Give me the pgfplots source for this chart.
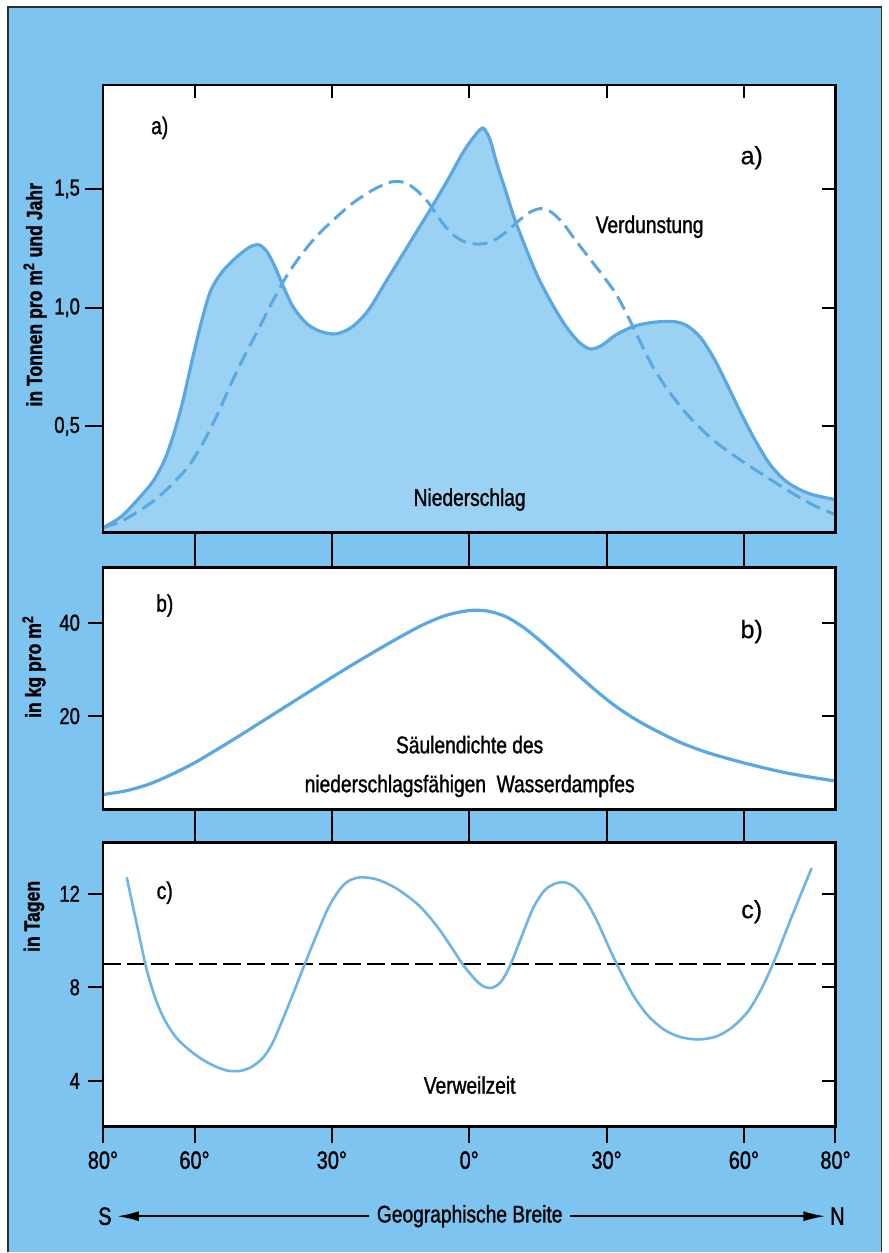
\documentclass[border=0pt]{standalone}
\usepackage{fontspec}
\setmainfont{Liberation Sans}[FakeStretch=0.8, FakeBold=1.2]
\newfontfamily\widefont{Liberation Sans}[FakeBold=0.6]
\usepackage{pgfplots}
\pgfplotsset{compat=1.18}
\usetikzlibrary{arrows.meta}
\definecolor{bgblue}{RGB}{125,196,240}
\definecolor{fillblue}{RGB}{155,210,244}
\definecolor{lineblue}{RGB}{90,168,225}
\definecolor{lineblueC}{RGB}{110,180,228}
\definecolor{framecol}{RGB}{45,45,50}

\pgfplotsset{
  panel/.style={
    scale only axis, width=366.5pt, xmin=-80, xmax=80,
    anchor=north west, axis on top,
    axis background/.style={fill=white},
    axis line style={line width=1.3pt},
    tick style={draw=none},
    /pgf/number format/assume math mode=true,
    font=\fontsize{12}{14}\selectfont,
    ticklabel style={font=\fontsize{11.5}{13}\selectfont},
    yticklabel style={xshift=-8pt},
  }
}

\pgfplotstableread{
lat val
-80 0.072
-76 0.12
-72 0.20
-69 0.27
-66.5 0.36
-64.5 0.47
-62.5 0.61
-60.5 0.78
-58.5 0.94
-56.5 1.07
-54 1.15
-51 1.21
-48 1.255
-46 1.265
-44.3 1.24
-42.6 1.18
-40.6 1.09
-38.5 1.005
-35.6 0.935
-32.5 0.90
-29 0.89
-25.5 0.92
-22 0.99
-18.5 1.10
-15 1.21
-11.5 1.32
-8 1.43
-4.5 1.545
-1.5 1.65
1 1.72
3 1.757
4.5 1.71
6 1.61
8 1.49
10 1.37
12.5 1.245
15 1.13
18 1.02
21 0.925
24 0.855
26.5 0.826
29 0.842
32 0.885
36 0.922
40 0.938
44.5 0.942
47.5 0.925
50.5 0.875
53.5 0.785
56.5 0.67
59.5 0.55
62.5 0.44
65.5 0.345
68.5 0.28
71.5 0.24
75 0.212
80 0.191
}\niederschlag

\pgfplotstableread{
lat val
-80 0.073
-76 0.100
-72 0.145
-68 0.200
-64 0.273
-61 0.340
-58 0.435
-55 0.550
-52 0.680
-49 0.800
-46 0.910
-43 1.025
-40 1.130
-37 1.215
-33.5 1.298
-29.5 1.373
-25.5 1.440
-21 1.497
-17 1.530
-14 1.527
-11.5 1.495
-9 1.445
-6.5 1.375
-4 1.315
-1 1.278
2 1.268
5 1.280
8 1.318
11 1.370
13.5 1.405
15.8 1.418
18 1.402
20.5 1.356
23 1.290
26 1.215
29 1.140
32 1.060
34.5 0.970
37 0.870
40 0.755
43.5 0.650
48 0.542
53 0.447
58.5 0.368
64 0.298
70 0.225
75.5 0.165
80 0.128
}\verdunstung

\pgfplotstableread{
lat val
-80 3.2
-75 4.0
-70 5.4
-65 7.5
-60 10.0
-55 12.9
-50 15.9
-45 19.0
-40 22.1
-35 25.2
-30 28.3
-25 31.3
-20 34.2
-15 37.0
-10 39.6
-5 41.6
0 42.6
4 42.5
8 41.3
12 38.9
16 35.7
20 32.2
24 28.6
28 25.2
32 22.1
36 19.5
40 17.3
46 14.4
52 12.2
58 10.5
64 9.0
70 7.7
76 6.7
80 6.1
}\saeule

\pgfplotstableread{
lat val
-74.8 12.7
-72.5 10.6
-70.5 8.8
-68.5 7.5
-66.5 6.6
-64 5.85
-61 5.3
-58 4.88
-55 4.58
-52.5 4.43
-50 4.43
-47.5 4.6
-45 5.0
-43 5.6
-41 6.5
-38.5 7.7
-36 8.95
-33 10.4
-30.5 11.5
-28 12.25
-26 12.58
-23.5 12.7
-20 12.6
-15.7 12.2
-11 11.5
-7 10.6
-3.5 9.6
-1.5 9.0
1 8.4
3 8.05
5 7.98
7 8.25
9 8.95
11.5 10.2
14 11.4
16.5 12.15
19 12.45
21 12.48
23.2 12.25
25.5 11.7
28 10.8
31 9.5
33.5 8.5
36 7.6
39 6.8
42.5 6.2
46 5.88
50 5.77
54 5.9
57.5 6.3
61 7.0
64 8.0
67 9.3
70 10.8
72.5 12.0
74.8 13.1
}\verweil

\begin{document}
\begin{tikzpicture}
\fill[white] (0,0) rectangle (444.5pt,626.5pt);
\fill[bgblue] (4pt,0) rectangle (441pt,623pt);
\draw[framecol, line width=0.8pt] (4pt,0) -- (4pt,623pt) -- (441pt,623pt) -- (441pt,0);

% ---------------- panel a ----------------
\begin{axis}[panel, at={(51.5pt,584pt)}, height=224pt,
  ymin=0.052, ymax=1.939,
  xtick=\empty,
  ytick={0.5,1.0,1.5}, yticklabels={{0,5},{1,0},{1,5}},
  after end axis/.code={
    \foreach \t in {-60,-30,0,30,60} {
      \draw[line width=1pt] (axis cs:\t,1.939) -- ++(0,-6.5pt);
      \draw[line width=1pt] (axis cs:\t,0.052) -- ++(0,-17.5pt);
    }
    \foreach \v in {0.5,1.0,1.5} {
      \draw[line width=1pt] (axis cs:-80,\v) -- ++(-9pt,0);
      \draw[line width=1pt] (axis cs:80,\v) -- ++(-6.5pt,0);
    }
  }]
\addplot[smooth, draw=none, fill=fillblue] table[x=lat, y=val] {\niederschlag} \closedcycle;
\addplot[smooth, lineblue, line width=1.6pt] table[x=lat, y=val] {\niederschlag};
\addplot[smooth, lineblue, line width=1.5pt, dash pattern=on 7.5pt off 3.5pt] table[x=lat, y=val] {\verdunstung};
\node at (axis cs:-67.6,1.758) {a)};
\node[font=\widefont\fontsize{12.5}{14}\selectfont] at (axis cs:61.7,1.632) {a)};
\node at (axis cs:39.4,1.341) {Verdunstung};
\node at (axis cs:0.1,0.191) {Niederschlag};
\end{axis}

% ---------------- panel b ----------------
\begin{axis}[panel, at={(51.5pt,342.5pt)}, height=121pt,
  ymin=0, ymax=51.8,
  xtick=\empty,
  ytick={20,40},
  after end axis/.code={
    \foreach \t in {-60,-30,0,30,60} {
      \draw[line width=1pt] (axis cs:\t,0) -- ++(0,-16.5pt);
    }
    \foreach \v in {20,40} {
      \draw[line width=1pt] (axis cs:-80,\v) -- ++(-7.5pt,0);
      \draw[line width=1pt] (axis cs:80,\v) -- ++(-6.5pt,0);
    }
  }]
\addplot[smooth, lineblue, line width=1.6pt] table[x=lat, y=val] {\saeule};
\node at (axis cs:-66.5,43.7) {b)};
\node[font=\widefont\fontsize{12.5}{14}\selectfont] at (axis cs:61.7,38.1) {b)};
\node[align=center, font=\fontsize{12}{19.5}\selectfont] at (axis cs:0.1,9.2) {Säulendichte des\\niederschlagsfähigen\ \ Wasserdampfes};
\end{axis}

% ---------------- panel c ----------------
\begin{axis}[panel, at={(51.5pt,205pt)}, height=142pt,
  ymin=2.06, ymax=14.19,
  xtick={-80,-60,-30,0,30,60,80},
  xticklabels={80°,60°,30°,0°,30°,60°,80°},
  xticklabel style={yshift=-9pt, font=\fontsize{12.5}{14}\selectfont},
  ytick={4,8,12},
  after end axis/.code={
    \foreach \t in {-80,-60,-30,0,30,60,80} {
      \draw[line width=1pt] (axis cs:\t,2.06) -- ++(0,-8.5pt);
    }
    \foreach \v in {4,8,12} {
      \draw[line width=1pt] (axis cs:-80,\v) -- ++(-7.5pt,0);
      \draw[line width=1pt] (axis cs:80,\v) -- ++(-6.5pt,0);
    }
  }]
\addplot[black, line width=1pt, dash pattern=on 9pt off 3pt] coordinates {(-80,9) (80,9)};
\addplot[smooth, lineblueC, line width=1.3pt] table[x=lat, y=val] {\verweil};
\node at (axis cs:-66.5,12.04) {c)};
\node[font=\widefont\fontsize{12.5}{14}\selectfont] at (axis cs:61.7,11.23) {c)};
\node at (axis cs:0.1,3.82) {Verweilzeit};
\end{axis}

% axis labels
\node[rotate=90, font=\bfseries\fontsize{11}{13}\selectfont] at (17.5pt,479pt) {in Tonnen pro m\textsuperscript{2} und Jahr};
\node[rotate=90, font=\bfseries\fontsize{11}{13}\selectfont] at (17pt,293pt) {in kg pro m\textsuperscript{2}};
\node[rotate=90, font=\bfseries\fontsize{11}{13}\selectfont] at (17pt,168pt) {in Tagen};

% bottom arrow
\draw[line width=1pt, {Latex[length=11pt,width=5pt]}-{Latex[length=11pt,width=5pt]}] (58.5pt,18pt) -- (413pt,18pt);
\node[fill=bgblue, inner xsep=4pt, font=\fontsize{12}{14}\selectfont] at (235pt,18pt) {Geographische Breite};
\node[font=\fontsize{12.5}{14}\selectfont] at (52.5pt,18pt) {S};
\node[font=\fontsize{12.5}{14}\selectfont] at (419pt,18pt) {N};
\end{tikzpicture}
\end{document}
